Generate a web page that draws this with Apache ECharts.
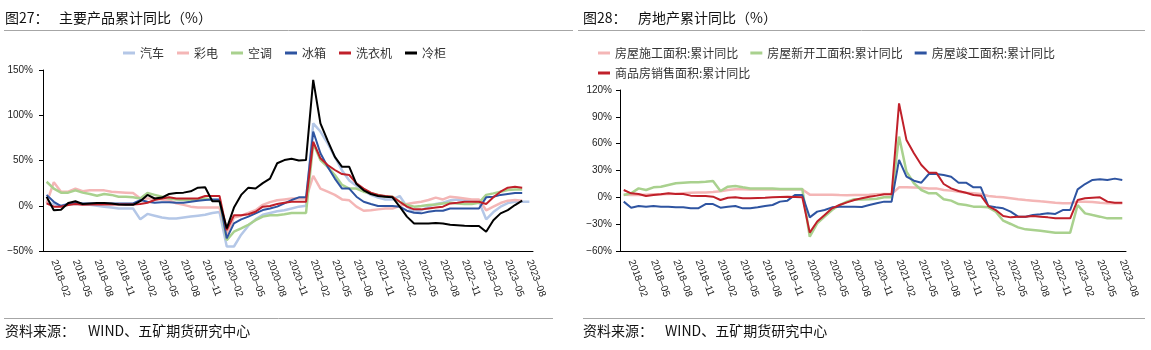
<!DOCTYPE html>
<html>
<head>
<meta charset="utf-8">
<script src="https://cdn.jsdelivr.net/npm/echarts@6/dist/echarts.min.js"></script>
<style>
  html, body { margin: 0; padding: 0; background: #fff; }
  #chart { width: 1151px; height: 350px; }
</style>
</head>
<body>
<div id="chart"></div>
<script>
// months 2018-01 .. 2023-08
var months = [];
for (var y = 2018; y <= 2023; y++) {
  for (var m = 1; m <= 12; m++) {
    if (y === 2023 && m > 8) break;
    months.push(y + '-' + (m < 10 ? '0' + m : m));
  }
}

// 图27 主要产品累计同比（%）
var qiche = [3, 2, 0, 2, 2, 2, 1, 0, -1, -2, -3, -3, -3, -15, -9, -11, -13, -14, -14, -13, -12, -11, -10, -8, -7,
  -45, -45, -32, -22, -15, -10, -8, -6, -5, -3, -1, 0, 91, 82, 69, 54, 39, 28, 22, 16.6, 12, 9, 7, 7, 10.7,
  -1, -6.6, -5, -1, 2, 3.3, 6, 7, 6, 6, 4.4, -15, -7, -1, 3, 4.4, 4.4, 4.4];
var caidian = [3, 26, 15.5, 15.5, 19, 16, 17, 17, 17, 15.5, 15, 14.5, 14, 8, 8, 8, 7, 6, 2.6, 1, -1, -2, -2, -2, -2,
  -32, -13, -11, -8, -5, 1, 4, 6, 7, 8, 8, 8, 33, 19, 15.5, 12, 7, 6, -1, -5.5, -5, -4, -3, -3, 0,
  2, 3.3, 4.4, 6.3, 9, 7, 10, 9, 8, 7, 7, -5, -1, 3, 5.6, 6.3, 5.6];
var kongtiao = [26.5, 19, 14.5, 14.5, 17, 14.5, 13, 11, 13, 12, 10, 10, 9.3, 8, 14, 12, 10, 8, 7, 6.3, 6.3, 6.3, 8, 6.3, 6.3,
  -38, -28.7, -25, -21, -16, -12, -10.5, -10.5, -9.4, -8, -8, -8, 69, 50.5, 43, 34, 23, 19, 19, 15.5, 13.7, 12, 10, 10, 4.4,
  0.8, -1, -0.3, 0.8, 1.5, 2.6, 3.3, 2.6, 1.9, 1.9, 3.3, 12, 13.7, 15.5, 17.3, 18, 18];
var bingxiang = [12, 4.4, -0.3, 2, 3, 2.6, 2.6, 2.6, 2.6, 2.6, 2.6, 2.6, 2.6, 6.3, 4.4, 3.3, 4, 4, 3.3, 3.3, 4.4, 5.6, 6.3, 7, 7,
  -36, -19.5, -15, -12, -8.4, -4.8, -3, -1, 2.6, 6.3, 9.3, 9.3, 82, 58, 43, 30, 19, 19, 10, 4.4, 2, -0.3, -0.3, -0.3, -1,
  -5.5, -7.7, -8.4, -6.6, -5.5, -5.5, -3, -3, -3, -3, -3, 9.3, 10, 12, 13, 14, 14];
var xiyiji = [2.6, -1, -1, 0.8, 1.9, 1, 1.5, 1.5, 1.5, 1.5, 1.5, 1.5, 1.5, 2, 3.3, 6.3, 8, 9.3, 8, 8, 8, 8, 10.7, 10.7, 10.7,
  -27, -10.5, -10.5, -9.4, -6.6, -1, -0.3, 1.9, 3.3, 4.4, 4.4, 4.4, 70.7, 52.4, 45, 39.5, 35, 34, 24.7, 19, 14.4, 12, 10.7, 10, 4.4,
  -1, -4, -4, -3, -2, -1, 2.6, 3.3, 4.4, 4.4, 4.4, 1.9, 9.3, 15.5, 20, 21, 20];
var linggui = [10, -5, -4.5, 3, 5, 2, 2.5, 3, 3, 2.5, 1.5, 1, 1, 5, 12, 8, 9, 13, 14, 14.5, 16, 20, 20.5, 5, 5,
  -25, -2, 12, 20, 19, 25, 30, 47, 50.5, 52, 50, 50.5, 139, 91, 72, 54, 43, 43, 24, 17, 13, 10.7, 10, 9.3, -1,
  -12, -19.5, -19.5, -19.5, -19, -19.5, -21, -21.5, -22, -22.4, -22.4, -28.7, -16, -8.4, -4.8, 0.8, 5.6];

// 图28 房地产累计同比（%）
var shigong = [3, 2.5, 2.5, 3, 3.5, 3.5, 3.7, 4, 4.5, 5, 5.5, 5.5, 6, 6.8, 8.2, 9, 9.1, 8.8, 8.8, 8.8, 8.7, 8.7, 8.8, 8.7, 8.7,
  3, 2.9, 2.9, 2.9, 2.5, 2.4, 2.6, 2.7, 3, 3.5, 3.7, 3.7, 11.2, 11.2, 11, 10.8, 10, 10, 8.2, 7.5, 6.3, 5.2, 4.5, 3.7, 1.5,
  0.7, 0, -1.1, -2.2, -3, -3.7, -4.5, -5.2, -6, -6.7, -6.7, -4.8, -4.8, -5.2, -6, -6.7, -6.7, -6.7];
var xinkaigong = [2.6, 4.5, 10, 8.2, 11.2, 11.9, 13.8, 15.7, 16.4, 16.8, 16.8, 17.5, 18.3, 7.1, 11.9, 12.7, 11.2, 10, 10, 10, 10, 9.3, 9.3, 9.3, 9.3,
  -44, -29, -21.6, -14.2, -8.6, -4.8, -2.2, -2.5, -2.2, -1.5, 0, 0, 67.9, 28.7, 15.7, 8.2, 4.5, 4.5, -2.2, -3.7, -7.5, -8.6, -10.4, -10.4, -11.2,
  -16, -26.1, -29.8, -33.6, -35.8, -36.5, -37.3, -38.4, -39.5, -39.5, -39.5, -8.6, -17.9, -19.8, -21.6, -23.5, -23.5, -23.5];
var jungong = [-4.8, -11.6, -9.7, -10.4, -9.7, -10.4, -10.4, -11.2, -11.2, -12.3, -12.3, -7.5, -7.5, -11.6, -10.4, -9.7, -12.3, -12.3, -11.2, -9.7, -8.6, -4.8, -3.7, 2.6, 2.6,
  -22.4, -16, -14.2, -11.2, -10.4, -10.4, -10.4, -10.8, -8.6, -6.7, -4.8, -4.8, 41.8, 23.1, 18.6, 16.4, 26.1, 26.1, 25, 23.1, 16.4, 16.4, 11.2, 11.2, -9.7,
  -11.2, -12.3, -16, -21.6, -21.6, -19.8, -19, -17.9, -18.6, -14.2, -14.2, 8.9, 14.9, 19.4, 20.1, 19.4, 20.9, 19.4];
var xiaoshou = [8.2, 4.5, 3.7, 1.5, 2.6, 3.4, 4.5, 3.7, 3.7, 1.9, 1.5, 1.5, 0.7, -3, -0.4, 0, -1.1, -1.1, -0.7, -0.4, 0, 0.4, 0.7, 0.4, 0,
  -39.5, -27, -19.8, -12.3, -8.6, -5.6, -3, -1.1, 0.7, 1.9, 3.4, 3.4, 105, 64, 49.2, 36.2, 27.6, 27.6, 14.9, 10, 7.1, 5.2, 2.6, 1.9, -9.7,
  -14.2, -20.9, -22.4, -21.6, -21.6, -20.9, -21.6, -22.4, -23.5, -23.5, -23.5, -3, -1.1, -0.4, 0, -4.8, -6, -6];

var leftNames = ["汽车", "彩电", "空调", "冰箱", "洗衣机", "冷柜"];
var rightNames = ["房屋施工面积:累计同比", "房屋新开工面积:累计同比", "房屋竣工面积:累计同比", "商品房销售面积:累计同比"];

var cjk = "Noto Sans CJK SC";
var latin = "Liberation Sans";

function pct(v) {
  return (v < 0 ? "\u2212" + Math.abs(v) : v) + "%";
}

function xAxisOf(gridIndex) {
  return {
    type: "category",
    gridIndex: gridIndex,
    data: months,
    boundaryGap: true,
    axisLine: { onZero: false, lineStyle: { color: "#000", width: 1 } },
    axisTick: { interval: 0, length: 4, lineStyle: { color: "#000" } },
    axisLabel: {
      interval: function (idx) { return idx % 3 === 1; },
      rotate: -70,
      margin: 9,
      fontSize: 10,
      fontFamily: latin,
      color: "#222",
      formatter: function (v) { return v.replace("-", "\u2013"); }
    },
    splitLine: { show: false }
  };
}

function yAxisOf(gridIndex, min, max, step, margin) {
  return {
    type: "value",
    gridIndex: gridIndex,
    min: min,
    max: max,
    interval: step,
    axisLine: { show: true, lineStyle: { color: "#000", width: 1 } },
    axisTick: { show: true, length: 4, lineStyle: { color: "#000" } },
    axisLabel: { formatter: pct, fontSize: 10, fontFamily: latin, color: "#222", margin: margin },
    splitLine: { show: false }
  };
}

function line(name, data, color, axis, z, width) {
  return {
    name: name,
    type: "line",
    data: data,
    xAxisIndex: axis,
    yAxisIndex: axis,
    symbol: "none",
    z: z,
    lineStyle: { color: color, width: width || 2 },
    itemStyle: { color: color },
    animation: false
  };
}

var legendBase = {
  icon: "rect",
  itemWidth: 12,
  itemHeight: 3,
  itemGap: 13,
  selectedMode: false,
  textStyle: { fontFamily: cjk, fontSize: 12, color: "#333" }
};

function text(x, y, str, size) {
  return {
    type: "text", left: x, top: y,
    style: { text: str, fontFamily: cjk, fontSize: size, fill: "#111" }
  };
}
function hline(x1, x2, y) {
  return {
    type: "line",
    shape: { x1: x1, y1: y, x2: x2, y2: y },
    style: { stroke: "#a6a6a6", lineWidth: 1 }
  };
}

var chart = echarts.init(document.getElementById("chart"));
chart.setOption({
  animation: false,
  grid: [
    { left: 43, top: 70, width: 490, height: 181 },
    { left: 620, top: 90, width: 506, height: 161 }
  ],
  xAxis: [xAxisOf(0), xAxisOf(1)],
  yAxis: [yAxisOf(0, -50, 150, 50, 10), yAxisOf(1, -60, 120, 30, 8)],
  legend: [
    Object.assign({}, legendBase, { left: 118, top: 42, data: leftNames }),
    Object.assign({}, legendBase, { left: 593, top: 42, itemGap: 12, data: rightNames.slice(0, 3) }),
    Object.assign({}, legendBase, { left: 593, top: 62, data: rightNames.slice(3) })
  ],
  series: [
    line("汽车", qiche, "#b4c7e7", 0, 1, 2.5),
    line("彩电", caidian, "#f4b6b6", 0, 2, 2.5),
    line("空调", kongtiao, "#a9d18e", 0, 3, 2.5),
    line("冰箱", bingxiang, "#2e54a1", 0, 4),
    line("洗衣机", xiyiji, "#c0202a", 0, 5),
    line("冷柜", linggui, "#000000", 0, 6),
    line(rightNames[0], shigong, "#f4b6b6", 1, 1, 2.5),
    line(rightNames[1], xinkaigong, "#a9d18e", 1, 2, 2.5),
    line(rightNames[2], jungong, "#2e54a1", 1, 3),
    line(rightNames[3], xiaoshou, "#c0202a", 1, 4)
  ],
  graphic: [
    text(5, 11, "图27：", 14),
    text(59, 11, "主要产品累计同比（%）", 14),
    text(583, 11, "图28：", 14),
    text(638, 11, "房地产累计同比（%）", 14),
    hline(4, 573, 30.5),
    hline(578, 1145, 30.5),
    hline(4, 553, 318.5),
    hline(583, 1145, 318.5),
    text(5, 324, "资料来源：", 14),
    text(88, 324, "WIND、五矿期货研究中心", 14),
    text(583, 324, "资料来源：", 14),
    text(665, 324, "WIND、五矿期货研究中心", 14)
  ]
});
</script>
</body>
</html>
